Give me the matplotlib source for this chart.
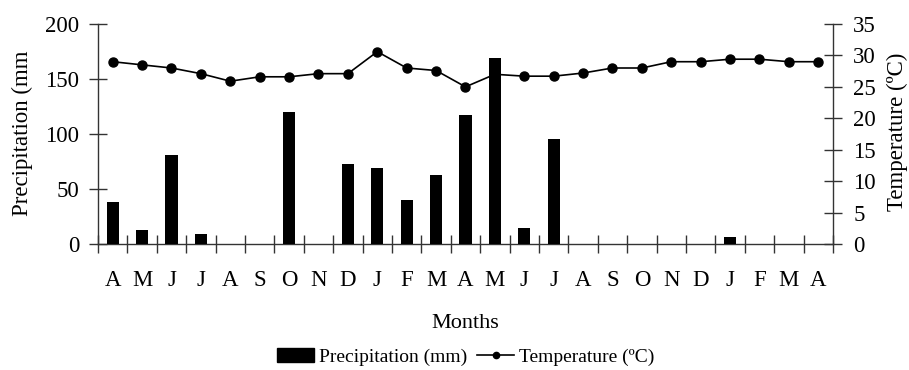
import matplotlib
matplotlib.use("Agg")
import matplotlib.pyplot as plt
from matplotlib.patches import Patch
from matplotlib.lines import Line2D
import numpy as np

plt.rcParams['font.family'] = ['Liberation Serif', 'DejaVu Serif']

months = ["A", "M", "J", "J", "A", "S", "O", "N", "D", "J", "F", "M", "A",
          "M", "J", "J", "A", "S", "O", "N", "D", "J", "F", "M", "A"]
precipitation = [38, 13, 81, 9, 0, 0, 120, 0, 73, 69, 40, 63, 117,
                 169, 14.5, 95.5, 0, 0, 0, 0, 0, 6.4, 0, 0, 0]
temperature = [29, 28.5, 28, 27.1, 25.9, 26.6, 26.6, 27.1, 27.1, 30.6, 28, 27.6, 25,
               27, 26.7, 26.7, 27.2, 28, 28, 29, 29, 29.4, 29.4, 29, 29]

fs = 16.5
fig = plt.figure(figsize=(9.09, 3.70), dpi=100)
ax = fig.add_axes([98/909, 1-244/370, (833-98)/909, 220/370])
ax2 = ax.twinx()

x = np.arange(len(months))
# line behind bars
ax2.plot(x, temperature, color='black', lw=1.2, marker='o', ms=6.5, zorder=1)
ax2.set_ylim(0, 35)
ax2.set_yticks(range(0, 36, 5))

ax.set_zorder(ax2.get_zorder() + 1)
ax.patch.set_visible(False)
ax.bar(x, precipitation, width=0.42, color='black', zorder=3)
ax.set_ylim(0, 200)
ax.set_xlim(-0.5, len(months) - 0.5)
ax.set_yticks(range(0, 201, 50))

ax.set_xticks(np.arange(-0.5, len(months), 1.0))
ax.set_xticklabels([])
ax.set_xticks(x, minor=True)
ax.set_xticklabels(months, minor=True)
ax.tick_params(axis='x', which='major', direction='inout', length=13, width=1, color='#333333')
ax.tick_params(axis='x', which='minor', length=0, pad=19, labelsize=fs)
ax.tick_params(axis='y', direction='inout', length=13, width=1, color='#333333', labelsize=fs, pad=7)
ax2.tick_params(axis='y', direction='inout', length=13, width=1, color='#333333', labelsize=fs, pad=8)

for a in (ax, ax2):
    a.spines['top'].set_visible(False)
    for s in ('left', 'right', 'bottom'):
        a.spines[s].set_color('#333333')
        a.spines[s].set_linewidth(1)
ax.spines['right'].set_visible(False)
ax2.spines['left'].set_visible(False)
ax2.spines['bottom'].set_visible(False)

fig.text(22/909, 1-133/370, "Precipitation (mm", rotation=90, ha='center', va='center', fontsize=fs)
fig.text(897/909, 1-132/370, "Temperature (ºC)", rotation=90, ha='center', va='center', fontsize=fs)
fig.text(465/909, 1-324/370, "Months", ha='center', va='center', fontsize=16)

handles = [Patch(facecolor='black', edgecolor='black'),
           Line2D([0], [0], color='black', lw=1.2, marker='o', ms=4.5)]
fig.legend(handles, ["Precipitation (mm)", "Temperature (ºC)"], loc='center',
           bbox_to_anchor=(466/909, 1-357/370), ncol=2, frameon=False, fontsize=14,
           handlelength=1.9, handleheight=0.7, handletextpad=0.26, columnspacing=0.5,
           borderpad=0, borderaxespad=0)

fig.savefig("out.png", dpi=100)
